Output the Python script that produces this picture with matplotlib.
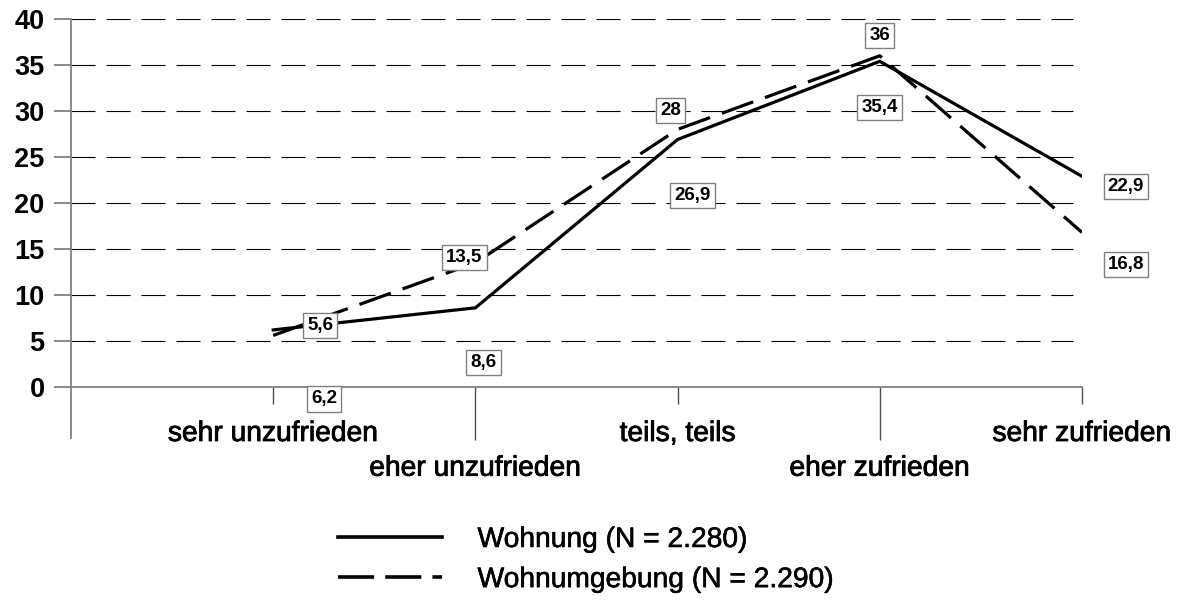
import matplotlib
matplotlib.use("Agg")
import matplotlib.pyplot as plt
from matplotlib.lines import Line2D
import matplotlib.patheffects as pe

plt.rcParams['font.family'] = ['Liberation Sans', 'DejaVu Sans']
plt.rcParams['lines.scale_dashes'] = False

categories = ["sehr unzufrieden", "eher unzufrieden", "teils, teils",
              "eher zufrieden", "sehr zufrieden"]
wohnung = [6.2, 8.6, 26.9, 35.4, 22.9]
wohnumgebung = [5.6, 13.5, 28, 36, 16.8]
series_names = ["Wohnung (N = 2.280)", "Wohnumgebung (N = 2.290)"]
yticks = [0, 5, 10, 15, 20, 25, 30, 35, 40]

# label offsets in pixels (dx, dy up)
off_w = [(51, -69), (8, -55), (15, -56), (0, -46), (44, -10)]
off_u = [(47, 10), (-11, 5), (-7, 19), (0, 20), (44, -32)]

DPI = 100
fig = plt.figure(figsize=(11.8, 6.0), dpi=DPI)
L, R, T, B = 71, 1082, 19, 438
ax = fig.add_axes([L / 1180, 1 - B / 600, (R - L) / 1180, (B - T) / 600])
ax.set_xlim(-1, 4)
ax.set_ylim(-5.55, 40)

x = list(range(len(categories)))
heavy = [pe.withStroke(linewidth=0.6, foreground='black')]

# grid
for yv in yticks[1:]:
    ax.plot([-1, 3.955], [yv, yv], color='black', lw=0.8,
            linestyle=(0, (17.3, 7.9)), zorder=1)

l1, = ax.plot(x, wohnung, color='black', lw=2.3, zorder=3,
              solid_joinstyle='miter')
l2, = ax.plot(x, wohnumgebung, color='black', lw=2.3, zorder=3,
              linestyle=(0, (24, 9)))

for xs, vals, offs in ((x, wohnung, off_w), (x, wohnumgebung, off_u)):
    for xi, v, (dx, dy) in zip(xs, vals, offs):
        ax.annotate(f"{v:g}".replace('.', ','), (xi, v),
                    xytext=(dx * 72 / DPI, dy * 72 / DPI),
                    textcoords='offset points', ha='center', va='center',
                    fontsize=13.5, fontweight='bold', zorder=5,
                    bbox=dict(boxstyle='square,pad=0.22', fc='white',
                              ec='#808080', lw=1.0))

# spines
for s in ['top', 'right']:
    ax.spines[s].set_visible(False)
ax.spines['left'].set_color('#808080')
ax.spines['left'].set_linewidth(1.3)
ax.spines['bottom'].set_position(('data', 0))
ax.spines['bottom'].set_color('#808080')
ax.spines['bottom'].set_linewidth(1.3)

ax.set_yticks(yticks)
ax.set_yticklabels([str(v) for v in yticks], fontsize=19.5, fontweight='bold')
ax.tick_params(axis='y', direction='out', length=12, width=1.3,
               color='#808080', pad=7)

# x: minor = short ticks (0,2,4), major = long ticks (1,3)
ax.set_xticks([1, 3])
ax.set_xticklabels([categories[1], categories[3]], fontsize=20.3)
ax.set_xticks([0, 2, 4], minor=True)
ax.set_xticklabels([categories[0], categories[2], categories[4]],
                   minor=True, fontsize=20.3)
ax.tick_params(axis='x', which='major', direction='out', length=38.5,
               width=1.0, color='#505050', pad=11)
ax.tick_params(axis='x', which='minor', direction='out', length=12.5,
               width=1.0, color='#505050', pad=12)
for t in ax.get_xticklabels(which='both'):
    t.set_path_effects(heavy)

handles = [Line2D([], [], color='black', lw=2.6),
           Line2D([], [], color='black', lw=2.6, linestyle=(0, (26, 8)))]
leg = fig.legend(handles, series_names, loc='upper left',
                 bbox_to_anchor=(338 / 1180, 1 - 527 / 600), frameon=False,
                 fontsize=20.3, handlelength=3.7, handletextpad=1.25,
                 labelspacing=0.5, borderpad=0, borderaxespad=0)
for t in leg.get_texts():
    t.set_path_effects([pe.withStroke(linewidth=0.4, foreground='black')])

fig.savefig("out.png", dpi=DPI)
